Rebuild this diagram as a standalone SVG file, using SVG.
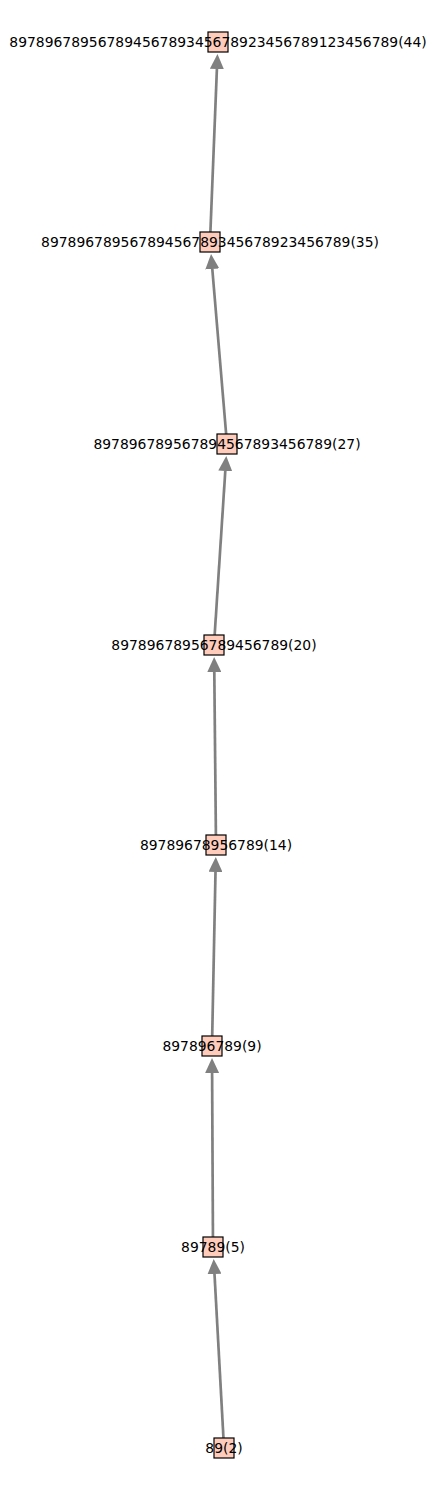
<svg xmlns="http://www.w3.org/2000/svg" width="436" height="1490" viewBox="0 0 436 1490">
<style>
.n rect{fill:#ffcbbb;stroke:#000;stroke-width:1.2}
.n text{font-family:"DejaVu Sans",sans-serif;font-size:13.9px;fill:#000;text-anchor:middle;dominant-baseline:central}
.e line{stroke:#808080;stroke-width:2.7;marker-end:url(#ah)}
</style>
<defs>
<marker id="ah" markerUnits="userSpaceOnUse" viewBox="0 0 15 14" markerWidth="15" markerHeight="14" refX="0" refY="7" orient="auto">
<path d="M0,0 L15,7 L0,14 z" fill="#808080"/>
</marker>
</defs>
<rect width="436" height="1490" fill="#fff"/>
<g id="edges" class="e">
<line x1="224" y1="1448" x2="214.5" y2="1274"/>
<line x1="213" y1="1247" x2="212.1" y2="1073"/>
<line x1="212" y1="1046" x2="215.5" y2="872"/>
<line x1="216" y1="845" x2="214.3" y2="672"/>
<line x1="214" y1="645" x2="225.3" y2="471"/>
<line x1="227" y1="444" x2="212.3" y2="269"/>
<line x1="210" y1="242" x2="216.9" y2="69"/>
</g>
<g id="n2" class="n"><rect x="214" y="1438" width="20" height="20"/><text x="224" y="1448">89(2)</text></g>
<g id="n5" class="n"><rect x="203" y="1237" width="20" height="20"/><text x="213" y="1247">89789(5)</text></g>
<g id="n9" class="n"><rect x="202" y="1036" width="20" height="20"/><text x="212" y="1046">897896789(9)</text></g>
<g id="n14" class="n"><rect x="206" y="835" width="20" height="20"/><text x="216" y="845">89789678956789(14)</text></g>
<g id="n20" class="n"><rect x="204" y="635" width="20" height="20"/><text x="214" y="645">89789678956789456789(20)</text></g>
<g id="n27" class="n"><rect x="217" y="434" width="20" height="20"/><text x="227" y="444">897896789567894567893456789(27)</text></g>
<g id="n35" class="n"><rect x="200" y="232" width="20" height="20"/><text x="210" y="242">89789678956789456789345678923456789(35)</text></g>
<g id="n44" class="n"><rect x="208" y="32" width="20" height="20"/><text x="218" y="42">89789678956789456789345678923456789123456789(44)</text></g>
</svg>
